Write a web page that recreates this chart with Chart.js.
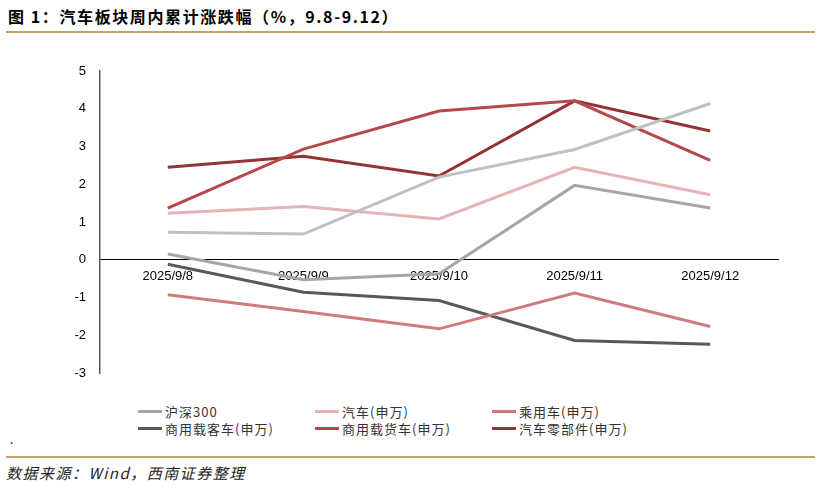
<!DOCTYPE html>
<html>
<head>
<meta charset="utf-8">
<script src="https://cdn.jsdelivr.net/npm/chart.js@4"></script>
<style>
  body { margin: 0; width: 821px; height: 489px; background: #fff; position: relative; overflow: hidden; font-family: "Noto Sans CJK SC", sans-serif; }
  #title { position: absolute; left: 8px; top: 4px; font-size: 16px; font-weight: bold; color: #000; letter-spacing: 1.6px; }
  .rule { position: absolute; left: 6px; width: 809px; height: 2px; background: #c9a063; }
  #wrap { position: absolute; left: 0; top: 40px; width: 821px; height: 360px; }
  #legend { position: absolute; left: 138px; top: 402px; width: 560px; font-size: 13px; color: #333; }
  .item { position: absolute; display: flex; align-items: center; white-space: nowrap; letter-spacing: 1px; }
  .swatch { width: 24px; height: 3px; margin-right: 3px; }
  #dot { position: absolute; left: 10px; top: 430px; font-size: 12px; }
  #source { position: absolute; left: 6px; top: 462px; font-size: 15px; font-style: italic; color: #222; letter-spacing: 1.5px; }
</style>
</head>
<body>
<div id="title">图 1：汽车板块周内累计涨跌幅（%，9.8-9.12）</div>
<div class="rule" style="top:31px"></div>
<div id="wrap"><canvas id="myChart"></canvas></div>
<div id="legend"></div>
<div id="dot">.</div>
<div class="rule" style="top:456px"></div>
<div id="source">数据来源：Wind，西南证券整理</div>
<script>
const categories = ['2025/9/8', '2025/9/9', '2025/9/10', '2025/9/11', '2025/9/12'];

const hs300 = [0.15, -0.53, -0.37, 1.97, 1.37];
const qiche = [1.23, 1.41, 1.08, 2.45, 1.72];
const chengyongche = [-0.93, -1.37, -1.83, -0.88, -1.77];
const zaikeche = [-0.12, -0.86, -1.08, -2.14, -2.24];
const zaihuoche = [1.37, 2.93, 3.94, 4.21, 2.63];
const lingbujian = [2.45, 2.74, 2.22, 4.21, 3.41];
const unlabeled = [0.73, 0.68, 2.19, 2.92, 4.14];

const yTicks = [-3, -2, -1, 0, 1, 2, 3, 4, 5];

const series = [
  { label: '', data: unlabeled, color: '#c0c0c0' },
  { label: '沪深300', data: hs300, color: '#a6a6a6' },
  { label: '汽车(申万)', data: qiche, color: '#e4b5b5' },
  { label: '乘用车(申万)', data: chengyongche, color: '#d07b7b' },
  { label: '商用载客车(申万)', data: zaikeche, color: '#595959' },
  { label: '商用载货车(申万)', data: zaihuoche, color: '#b5494a' },
  { label: '汽车零部件(申万)', data: lingbujian, color: '#943335' }
];

// legend in a 3-column grid, like the original
const legend = document.getElementById('legend');
series.filter(s => s.label).forEach(function (s, i) {
  const el = document.createElement('div');
  el.className = 'item';
  el.style.left = (i % 3) * 177 + 'px';
  el.style.top = Math.floor(i / 3) * 17 + 'px';
  el.innerHTML = '<span class="swatch" style="background:' + s.color + '"></span>' + s.label;
  legend.appendChild(el);
});

const ctx = document.getElementById('myChart');
new Chart(ctx, {
  type: 'line',
  data: {
    labels: categories,
    datasets: series.map(s => ({
      label: s.label,
      data: s.data,
      borderColor: s.color,
      backgroundColor: s.color,
      borderWidth: 3,
      pointRadius: 0,
      tension: 0
    }))
  },
  options: {
    responsive: true,
    maintainAspectRatio: false,
    animation: false,
    layout: { padding: { top: 31, right: 43, bottom: 27, left: 0 } },
    plugins: {
      legend: { display: false },
      tooltip: { enabled: false }
    },
    scales: {
      x: {
        position: { y: 0 },
        offset: true,
        grid: { display: false, drawTicks: false },
        border: { color: '#000', width: 1 },
        ticks: {
          color: '#000',
          padding: 9,
          maxRotation: 0,
          font: { family: 'Liberation Sans', size: 13 }
        }
      },
      y: {
        min: -3,
        max: 5,
        afterBuildTicks: function (axis) { axis.ticks = yTicks.map(v => ({ value: v })); },
        afterFit: function (axis) { axis.width = 100; },
        grid: { display: false, drawTicks: false },
        border: { color: '#595959', width: 1.5 },
        ticks: {
          color: '#000',
          padding: 14,
          font: { family: 'Liberation Sans', size: 13 }
        }
      }
    }
  }
});
</script>
</body>
</html>
